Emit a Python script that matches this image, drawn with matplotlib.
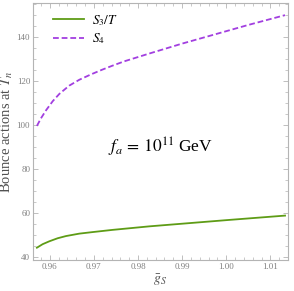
import matplotlib
matplotlib.use('Agg')
import matplotlib.pyplot as plt
from matplotlib.ticker import MultipleLocator

plt.rcParams['font.family'] = ['Liberation Serif', 'DejaVu Serif']
plt.rcParams['mathtext.fontset'] = 'stix'

# data
gs_s4 = [0.9571, 0.9580, 0.9592, 0.9607, 0.9622, 0.9644, 0.9667, 0.9693, 0.9719,
         0.9742, 0.9769, 0.9825, 0.9899, 0.9975, 1.0049, 1.0133]
s4 = [99.6, 103.0, 106.8, 110.9, 114.2, 117.9, 120.6, 123.0, 125.2,
      127.0, 129.0, 132.5, 137.0, 141.3, 145.5, 150.0]

gs_s3 = [0.9571, 0.9584, 0.9599, 0.9618, 0.9637, 0.9667, 0.9697, 0.9742,
         0.9825, 0.9899, 1.0004, 1.0133]
s3T = [44.2, 45.8, 47.1, 48.5, 49.5, 50.6, 51.3, 52.3,
       53.9, 55.1, 56.8, 58.8]

green = '#5e9c16'
purple = '#a23fe0'
frame_col = '#b4b4b4'
tick_col = '#808080'

fig = plt.figure(figsize=(2.94, 2.91), dpi=100)
ax = fig.add_axes([0.112, 0.1065, 0.868, 0.883])

ax.plot(gs_s3, s3T, color=green, lw=1.3, label=r'$S_3/T$')
ax.plot(gs_s4, s4, color=purple, lw=1.3, ls=(0, (3.2, 1.6)), label=r'$S_4$')

ax.set_xlim(0.9562, 1.0140)
ax.set_ylim(38.6, 155.5)
ax.xaxis.set_major_locator(MultipleLocator(0.01))
ax.xaxis.set_minor_locator(MultipleLocator(0.002))
ax.yaxis.set_major_locator(MultipleLocator(20))
ax.yaxis.set_minor_locator(MultipleLocator(5))
ax.xaxis.set_major_formatter(plt.FuncFormatter(lambda v, p: f'{v:.2f}'))

for s in ax.spines.values():
    s.set_color(frame_col)
    s.set_linewidth(0.8)
ax.tick_params(which='both', direction='in', top=True, right=True,
               color=frame_col, labelcolor=tick_col, labelsize=6.5, pad=2)
ax.tick_params(which='major', length=3.5, width=0.6)
ax.tick_params(which='minor', length=2, width=0.5)

ax.set_ylabel(r'Bounce actions at $T_n$', fontsize=10.5, color='#505050', labelpad=1)
ax.set_xlabel(r'$\bar{g}_S$', fontsize=10, color='#505050', labelpad=1)

ax.text(0.9852, 90, r'$f_a\, =\, 10^{11}$ GeV', fontsize=12.5, ha='center', va='center')

ax.legend(loc='upper left', bbox_to_anchor=(0.078, 0.962), frameon=False,
          borderpad=0, borderaxespad=0,
          fontsize=9.5, handlelength=2.4, handletextpad=0.55, labelspacing=0.3)

plt.savefig('out.png', dpi=100)
plt.close()
